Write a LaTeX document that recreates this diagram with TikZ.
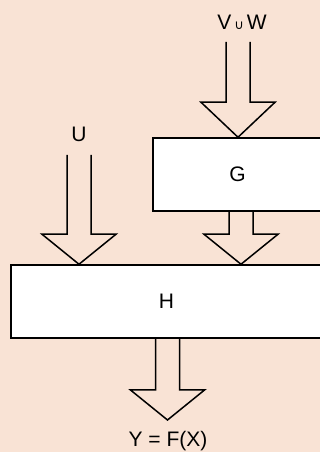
\documentclass[tikz,border=0pt]{standalone}
\usepackage{fontspec}
\setmainfont{Liberation Sans}
\newfontfamily\symfont{DejaVu Sans}
\usetikzlibrary{calc}
\definecolor{peach}{RGB}{249,227,213}
% hollow block arrow: from #1 down to the y of #2, head length #3
\def\fatarrow#1#2#3{
  \draw[fat] ($(#1)+(-12,0)$) -- ($(#1 |- #2)+(-12,#3)$) -- ++(-25,0)
    -- (#1 |- #2) -- ++(37,#3) -- ++(-25,0) -- ($(#1)+(12,0)$);
}
\tikzset{block/.style={draw,fill=white,line width=1.5pt,minimum height=73pt,inner sep=0pt,font=\fontsize{21}{25}\selectfont},
  fat/.style={line width=1.5pt,line join=miter},
  lbl/.style={font=\fontsize{21}{25}\selectfont,inner sep=0pt}}

\begin{document}
\begin{tikzpicture}[x=1pt,y=1pt]
  \fill[peach] (0,0) rectangle (320,452);
  \useasboundingbox (0,0) rectangle (320,452);
  \node[block,minimum width=169pt] (G) at (237.5,277.5) {G};
  \node[block,minimum width=311pt] (H) at (166.5,150.5) {H};
  \node[lbl] (vw) at (242,430) {V\hspace{3pt}{\symfont\fontsize{13}{15}\selectfont ∪}\hspace{3pt}W};
  \node[lbl] (u) at (79,318) {U};
  \node[lbl] (y) at (168,11) {Y = F(X)};
  \coordinate (vwin) at (238,410);
  \coordinate (uin) at (79,297);
  \coordinate (gout) at ([xshift=3.5]G.south);
  \coordinate (hout) at ([xshift=1]H.south);
  \coordinate (yin) at (168,32);
  \fatarrow{vwin}{G.north}{35}
  \fatarrow{uin}{H.north}{30}
  \fatarrow{gout}{H.north}{30}
  \fatarrow{hout}{yin}{30}
\end{tikzpicture}
\end{document}
